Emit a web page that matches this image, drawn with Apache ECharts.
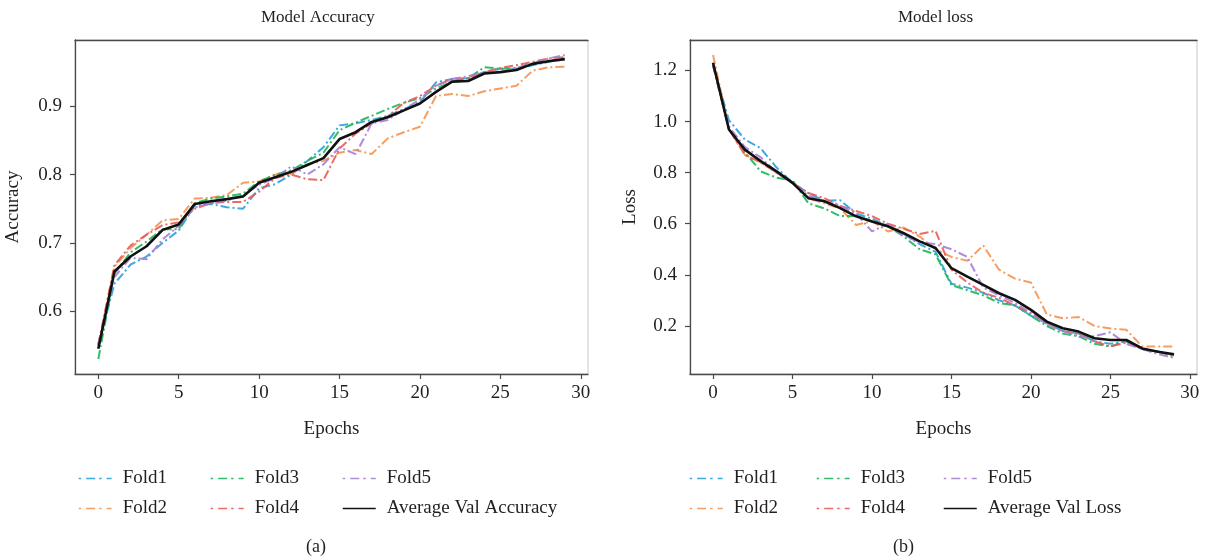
<!DOCTYPE html>
<html>
<head>
<meta charset="utf-8">
<title>Model Accuracy / Model loss</title>
<script src="https://cdn.jsdelivr.net/npm/echarts@6/dist/echarts.min.js"></script>
<style>
  html, body { margin: 0; padding: 0; background: #ffffff; }
  #chart { width: 1213px; height: 559px; }
</style>
</head>
<body>
<div id="chart"></div>
<script>
// ---- data ----
const epochs = [0,1,2,3,4,5,6,7,8,9,10,11,12,13,14,15,16,17,18,19,20,21,22,23,24,25,26,27,28,29];
const foldNames = ['Fold1', 'Fold2', 'Fold3', 'Fold4', 'Fold5'];

const accFold1 = [0.550,0.640,0.668,0.680,0.700,0.718,0.755,0.757,0.752,0.750,0.780,0.786,0.800,0.820,0.840,0.872,0.875,0.880,0.886,0.896,0.906,0.935,0.940,0.941,0.950,0.955,0.955,0.960,0.965,0.970];
const accFold2 = [0.552,0.665,0.692,0.712,0.733,0.735,0.765,0.766,0.770,0.788,0.790,0.800,0.801,0.815,0.820,0.832,0.836,0.830,0.853,0.862,0.870,0.915,0.918,0.915,0.922,0.926,0.930,0.952,0.957,0.958];
const accFold3 = [0.530,0.655,0.686,0.702,0.720,0.720,0.758,0.765,0.768,0.772,0.790,0.800,0.806,0.820,0.832,0.865,0.876,0.886,0.896,0.905,0.912,0.926,0.936,0.941,0.957,0.955,0.956,0.963,0.967,0.968];
const accFold4 = [0.550,0.667,0.696,0.712,0.726,0.730,0.750,0.758,0.760,0.760,0.775,0.795,0.800,0.793,0.792,0.838,0.860,0.875,0.885,0.905,0.915,0.930,0.940,0.941,0.950,0.956,0.960,0.965,0.970,0.972];
const accFold5 = [0.552,0.650,0.678,0.676,0.705,0.725,0.752,0.758,0.762,0.770,0.785,0.795,0.812,0.800,0.815,0.840,0.830,0.875,0.880,0.895,0.910,0.930,0.940,0.944,0.950,0.950,0.956,0.962,0.970,0.975];
const accAvg   = [0.545,0.658,0.680,0.695,0.719,0.727,0.757,0.761,0.764,0.768,0.788,0.796,0.804,0.814,0.824,0.852,0.862,0.877,0.884,0.894,0.904,0.921,0.936,0.937,0.948,0.950,0.953,0.962,0.966,0.969];

const lossFold1 = [1.22,1.005,0.93,0.895,0.82,0.76,0.72,0.69,0.692,0.64,0.62,0.59,0.56,0.52,0.49,0.365,0.35,0.33,0.30,0.28,0.24,0.21,0.18,0.17,0.14,0.13,0.14,0.11,0.10,0.085];
const lossFold2 = [1.26,0.97,0.87,0.84,0.80,0.76,0.70,0.68,0.66,0.595,0.61,0.57,0.585,0.55,0.50,0.47,0.455,0.515,0.42,0.385,0.37,0.245,0.23,0.235,0.20,0.19,0.185,0.12,0.12,0.12];
const lossFold3 = [1.22,0.97,0.88,0.805,0.78,0.77,0.68,0.66,0.63,0.63,0.61,0.59,0.55,0.50,0.48,0.36,0.34,0.32,0.29,0.28,0.24,0.20,0.17,0.16,0.13,0.12,0.14,0.11,0.10,0.08];
const lossFold4 = [1.22,0.97,0.87,0.84,0.80,0.76,0.72,0.70,0.67,0.65,0.63,0.60,0.58,0.56,0.572,0.42,0.37,0.33,0.31,0.28,0.25,0.21,0.18,0.17,0.14,0.12,0.135,0.11,0.10,0.085];
const lossFold5 = [1.22,0.98,0.90,0.86,0.80,0.76,0.71,0.69,0.67,0.64,0.57,0.60,0.55,0.53,0.52,0.50,0.47,0.35,0.32,0.29,0.25,0.21,0.18,0.16,0.16,0.175,0.13,0.11,0.09,0.075];
const lossAvg   = [1.23,0.969,0.89,0.845,0.805,0.76,0.70,0.688,0.661,0.629,0.609,0.59,0.563,0.531,0.505,0.426,0.393,0.361,0.328,0.302,0.263,0.217,0.191,0.178,0.152,0.145,0.145,0.112,0.099,0.089];

const xTicks    = [0, 5, 10, 15, 20, 25, 30];
const accTicks  = [0.6, 0.7, 0.8, 0.9];
const lossTicks = [0.2, 0.4, 0.6, 0.8, 1.0, 1.2];

// ---- styling ----
const FONT = "'Liberation Serif', 'DejaVu Serif', serif";
const TEXT = '#231f20';
const AXIS = '#4a4a4a';
const foldColors = ['#2a9fd8', '#f5924f', '#1db55a', '#ea5a57', '#a57fd6'];
const DASH_DOT = [9, 3, 2, 3];
const LEGEND_DASH = [2.5, 5, 9, 4];

const pairs = ys => epochs.map((e, i) => [e, ys[i]]);

function xAxes(gridIndex) {
  return [
    {
      type: 'value', gridIndex, min: -1.45, max: 30.45,
      axisLine: { show: true, onZero: false, lineStyle: { color: AXIS, width: 1.3 } },
      axisTick: { show: true, length: 5, customValues: xTicks, lineStyle: { color: AXIS, width: 1.2 } },
      axisLabel: { customValues: xTicks, fontFamily: FONT, fontSize: 19, color: TEXT, margin: 10 },
      splitLine: { show: false },
      name: 'Epochs', nameLocation: 'middle', nameGap: 46,
      nameTextStyle: { fontFamily: FONT, fontSize: 19, color: TEXT }
    },
    {
      type: 'value', gridIndex, position: 'top', min: -1.45, max: 30.45,
      axisLine: { show: true, onZero: false, lineStyle: { color: AXIS, width: 1.3 } },
      axisTick: { show: false }, axisLabel: { show: false }, splitLine: { show: false }
    }
  ];
}

function yAxis(gridIndex, min, max, ticks, name, gap) {
  return {
    type: 'value', gridIndex, min, max,
    axisLine: { show: true, onZero: false, lineStyle: { color: AXIS, width: 1.3 } },
    axisTick: { show: true, length: 5, customValues: ticks, lineStyle: { color: AXIS, width: 1.2 } },
    axisLabel: { customValues: ticks, formatter: v => v.toFixed(1), fontFamily: FONT, fontSize: 19, color: TEXT, margin: 13 },
    splitLine: { show: false },
    name, nameLocation: 'middle', nameGap: gap, nameRotate: 90,
    nameTextStyle: { fontFamily: FONT, fontSize: 19, color: TEXT }
  };
}

function panelSeries(folds, avg, avgName, xIndex, yIndex) {
  const out = folds.map((ys, k) => ({
    type: 'line', name: foldNames[k], xAxisIndex: xIndex, yAxisIndex: yIndex,
    data: pairs(ys), symbol: 'none', smooth: false, z: 2 + k,
    lineStyle: { color: foldColors[k], width: 2, type: DASH_DOT, opacity: 0.9 },
    itemStyle: { color: foldColors[k] }
  }));
  out.push({
    type: 'line', name: avgName, xAxisIndex: xIndex, yAxisIndex: yIndex,
    data: pairs(avg), symbol: 'none', z: 10,
    lineStyle: { color: '#111111', width: 2.6, type: 'solid' },
    itemStyle: { color: '#111111' }
  });
  return out;
}

function legendColumn(left, names) {
  return {
    orient: 'vertical', left, top: 464,
    itemWidth: 33, itemHeight: 14, itemGap: 11,
    selectedMode: false,
    data: names.map(n => {
      const k = foldNames.indexOf(n);
      return {
        name: n,
        itemStyle: { opacity: 0, borderWidth: 0 },
        lineStyle: k >= 0 ? { width: 1.3, type: LEGEND_DASH } : { width: 1.5, type: 'solid' }
      };
    }),
    textStyle: { fontFamily: FONT, fontSize: 19, color: TEXT, padding: [0, 0, 0, 6] }
  };
}

const option = {
  backgroundColor: '#ffffff',
  animation: false,
  grid: [
    { left: 75, top: 40, width: 513, height: 334, show: true, borderColor: '#c8c8c8', borderWidth: 1, backgroundColor: 'transparent' },
    { left: 690, top: 40, width: 507, height: 334, show: true, borderColor: '#c8c8c8', borderWidth: 1, backgroundColor: 'transparent' }
  ],
  xAxis: [...xAxes(0), ...xAxes(1)],
  yAxis: [
    yAxis(0, 0.508, 0.997, accTicks, 'Accuracy', 52),
    yAxis(1, 0.012, 1.319, lossTicks, 'Loss', 50)
  ],
  legend: [
    legendColumn(73, ['Fold1', 'Fold2']),
    legendColumn(205, ['Fold3', 'Fold4']),
    legendColumn(337, ['Fold5', 'Average Val Accuracy']),
    legendColumn(684, ['Fold1', 'Fold2']),
    legendColumn(811, ['Fold3', 'Fold4']),
    legendColumn(938, ['Fold5', 'Average Val Loss'])
  ],
  graphic: [
    { type: 'text', left: 331 - 70, top: 9, style: { text: 'Model Accuracy', font: "17px 'Liberation Serif', serif", fill: TEXT } },
    { type: 'text', left: 943 - 45, top: 9, style: { text: 'Model loss', font: "17px 'Liberation Serif', serif", fill: TEXT } },
    { type: 'text', left: 306, top: 538, style: { text: '(a)', font: "18px 'Liberation Serif', serif", fill: TEXT } },
    { type: 'text', left: 893, top: 538, style: { text: '(b)', font: "18px 'Liberation Serif', serif", fill: TEXT } }
  ],
  series: [
    ...panelSeries([accFold1, accFold2, accFold3, accFold4, accFold5], accAvg, 'Average Val Accuracy', 0, 0),
    ...panelSeries([lossFold1, lossFold2, lossFold3, lossFold4, lossFold5], lossAvg, 'Average Val Loss', 2, 1)
  ]
};

const chart = echarts.init(document.getElementById('chart'), null, { renderer: 'canvas' });
chart.setOption(option);
</script>
</body>
</html>
